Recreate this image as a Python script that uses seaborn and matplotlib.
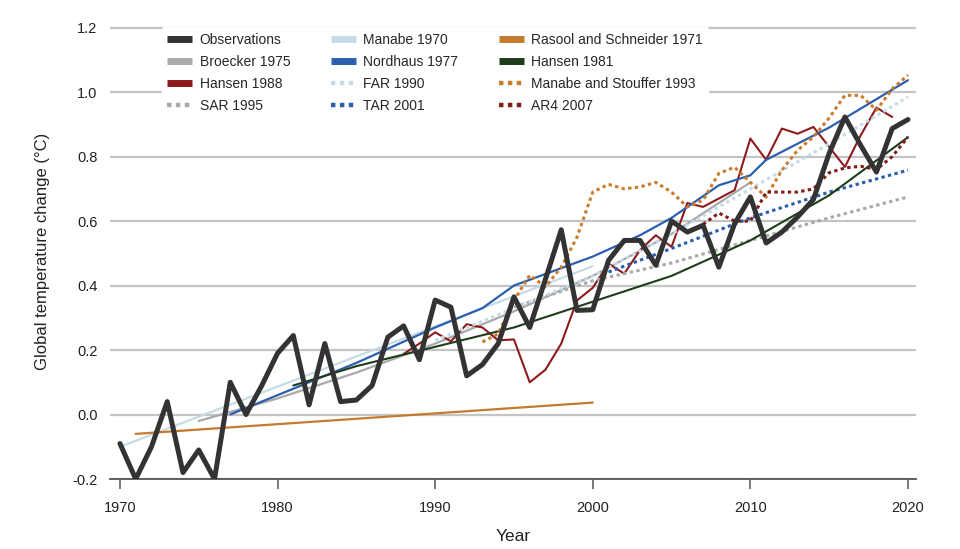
import numpy as np
import matplotlib.pyplot as plt
import seaborn as sns
import pandas as pd

obs_years = list(range(1970, 2021))
obs_vals = [-0.09, -0.20, -0.10, 0.04, -0.18, -0.11, -0.20, 0.10, 0.00, 0.09,
            0.19, 0.245, 0.03, 0.22, 0.04, 0.045, 0.09, 0.24, 0.275, 0.17,
            0.355, 0.333, 0.12, 0.155, 0.22, 0.365, 0.27, 0.42, 0.573, 0.323,
            0.325, 0.478, 0.54, 0.54, 0.463, 0.60, 0.566, 0.587, 0.457, 0.592,
            0.675, 0.532, 0.566, 0.613, 0.667, 0.81, 0.923, 0.835, 0.752, 0.887,
            0.915]

# model projections
manabe70_years = [1970, 2000]
manabe70_vals = [-0.10, 0.46]

rasool71_years = [1971, 2000]
rasool71_vals = [-0.06, 0.037]

broecker75_years = [1975, 1980, 1985, 1990, 1995, 2000, 2005, 2010]
broecker75_vals = [-0.02, 0.05, 0.13, 0.22, 0.32, 0.43, 0.56, 0.72]

nordhaus77_years = [1977, 1980, 1985, 1990, 1993, 1995, 2000, 2003, 2005, 2008, 2010, 2011, 2015, 2020]
nordhaus77_vals = [0.0, 0.06, 0.16, 0.27, 0.33, 0.40, 0.49, 0.556, 0.61, 0.711, 0.742, 0.79, 0.89, 1.037]

hansen81_years = [1981, 1985, 1990, 1995, 2000, 2005, 2010, 2015, 2020]
hansen81_vals = [0.09, 0.15, 0.21, 0.27, 0.35, 0.43, 0.54, 0.68, 0.86]

hansen88_years = list(range(1988, 2020))
hansen88_vals = [0.188, 0.22, 0.255, 0.227, 0.28, 0.27, 0.23, 0.233, 0.10, 0.139,
                 0.22, 0.354, 0.393, 0.468, 0.437, 0.51, 0.556, 0.52, 0.656, 0.644,
                 0.67, 0.696, 0.856, 0.79, 0.887, 0.871, 0.892, 0.83, 0.768, 0.866,
                 0.952, 0.923]

far90_years = [1990, 1995, 2000, 2005, 2010, 2015, 2020]
far90_vals = [0.23, 0.33, 0.43, 0.56, 0.70, 0.84, 0.985]

ms93_years = list(range(1993, 2021))
ms93_vals = [0.225, 0.25, 0.354, 0.432, 0.396, 0.457, 0.55, 0.69, 0.714, 0.70,
             0.706, 0.72, 0.69, 0.644, 0.665, 0.748, 0.767, 0.72, 0.675, 0.758,
             0.82, 0.861, 0.92, 0.99, 0.99, 0.944, 1.01, 1.053]

sar95_years = [1995, 2000, 2005, 2010, 2015, 2020]
sar95_vals = [0.333, 0.415, 0.47, 0.54, 0.61, 0.675]

tar01_years = [2001, 2005, 2010, 2015, 2020]
tar01_vals = [0.442, 0.515, 0.61, 0.69, 0.758]

ar4_years = list(range(2007, 2021))
ar4_vals = [0.59, 0.625, 0.60, 0.60, 0.69, 0.69, 0.69, 0.70, 0.75, 0.765,
            0.77, 0.76, 0.80, 0.861]

dot = (0, (1.1, 1.1))
series = [
    # label, years, values, color, width, style
    ("Observations", obs_years, obs_vals, "#333333", 3.6, "-"),
    ("Broecker 1975", broecker75_years, broecker75_vals, "#a9a9a9", 1.6, "-"),
    ("Hansen 1988", hansen88_years, hansen88_vals, "#8e1b1b", 1.5, "-"),
    ("SAR 1995", sar95_years, sar95_vals, "#a9a9a9", 2.2, dot),
    ("Manabe 1970", manabe70_years, manabe70_vals, "#c5dce8", 1.6, "-"),
    ("Nordhaus 1977", nordhaus77_years, nordhaus77_vals, "#2b5fae", 1.6, "-"),
    ("FAR 1990", far90_years, far90_vals, "#c5dce8", 2.2, dot),
    ("TAR 2001", tar01_years, tar01_vals, "#2b5fae", 2.2, dot),
    ("Rasool and Schneider 1971", rasool71_years, rasool71_vals, "#c57a2c", 1.6, "-"),
    ("Hansen 1981", hansen81_years, hansen81_vals, "#1d3d18", 1.5, "-"),
    ("Manabe and Stouffer 1993", ms93_years, ms93_vals, "#c97b2e", 2.2, dot),
    ("AR4 2007", ar4_years, ar4_vals, "#7f1d1d", 2.2, dot),
]

sns.set_style("white")
plt.rcParams['font.family'] = ['Liberation Sans', 'DejaVu Sans']

fig = plt.figure(figsize=(9.6, 5.49), dpi=100)
ax = fig.add_axes([0.1146, 0.1275, 0.8394, 0.828])

draw_order = [s for s in series if s[0] != "Observations"] + [series[0]]
for label, yrs, vals, color, lw, ls in draw_order:
    df = pd.DataFrame({"Year": yrs, "Temp": vals})
    z = 5 if label == "Observations" else 3
    sns.lineplot(data=df, x="Year", y="Temp", ax=ax, color=color, linewidth=lw,
                 linestyle=ls, zorder=z, legend=False)

ax.set_xlim(1969.37, 2020.5)
ax.set_ylim(-0.2, 1.21)
ax.set_xticks([1970, 1980, 1990, 2000, 2010, 2020])
ax.set_yticks(np.arange(-0.2, 1.21, 0.2))
ax.set_yticklabels([f"{v:.1f}" for v in np.arange(-0.2, 1.21, 0.2)])
ax.yaxis.grid(True, color="#c4c4c4", linewidth=1.6)
ax.set_axisbelow(True)
for side in ["left", "right", "top"]:
    ax.spines[side].set_visible(False)
ax.spines["bottom"].set_color("#555555")
ax.spines["bottom"].set_linewidth(1.3)
ax.tick_params(axis="x", direction="out", length=7, width=1.1, color="#555555",
               pad=9, labelsize=10.5, labelcolor="#222222", bottom=True)
ax.tick_params(axis="y", length=0, pad=9, labelsize=10.5, labelcolor="#222222")
ax.set_xlabel("Year", fontsize=12.5, color="#222222", labelpad=10)
ax.set_ylabel("Global temperature change (°C)", fontsize=12, color="#222222", labelpad=16)

leg_handles = []
leg_labels = []
for label, yrs, vals, color, lw, ls in series:
    h = plt.Line2D([], [], color=color, linewidth=5 if ls == "-" else 3.2,
                   linestyle=ls if ls == "-" else (0, (1.0, 1.0)),
                   solid_capstyle="butt", dash_capstyle="butt")
    leg_handles.append(h)
    leg_labels.append(label)
ax.legend(leg_handles, leg_labels, ncol=3, loc="upper left",
          bbox_to_anchor=(0.161, 0.963), bbox_transform=fig.transFigure,
          frameon=True, facecolor="white", edgecolor="white", framealpha=1,
          fontsize=10, handlelength=1.8, columnspacing=2.9, labelspacing=0.58,
          handletextpad=0.55, borderpad=0.4)

fig.savefig("out.png", dpi=100)
